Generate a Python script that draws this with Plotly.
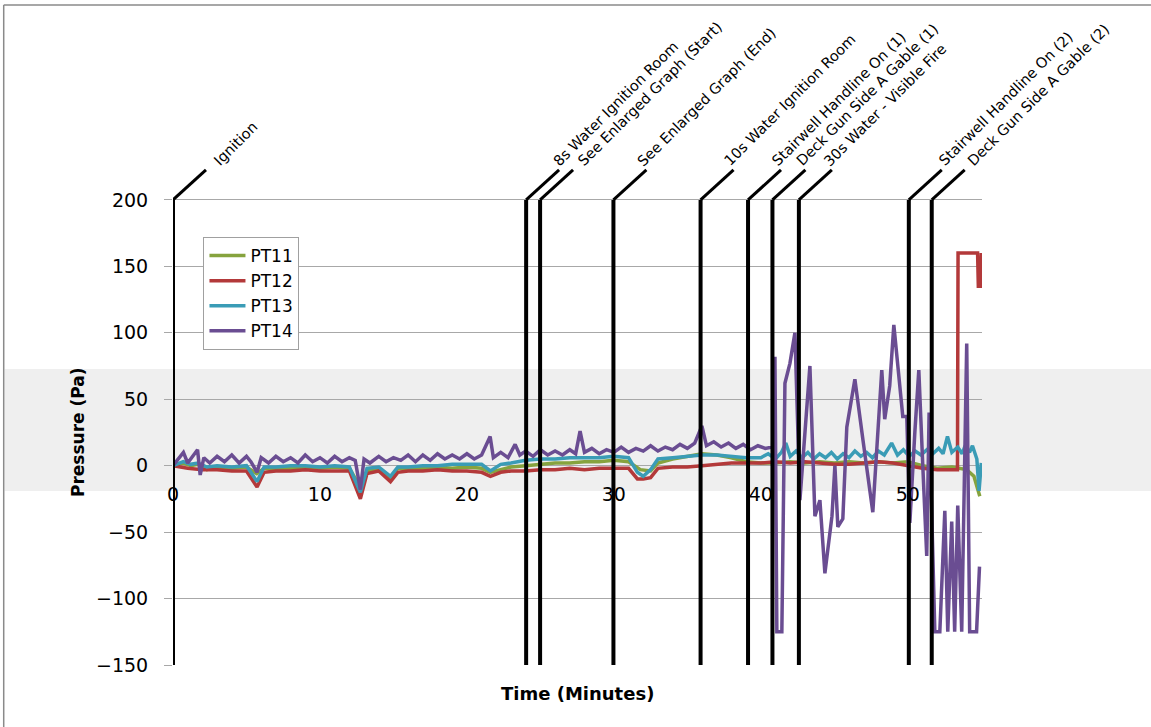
import plotly.graph_objects as go

# ---------------- data (time in minutes, pressure in Pa) ----------------
t11 = [0, 0.7, 1.2, 1.7, 2.3, 3, 4, 5, 5.7, 6.2, 7, 8, 9, 10, 11, 12, 12.75, 13.2, 14, 14.8,
       15.3, 16, 17, 18, 19, 20, 21, 21.6, 22.3, 23, 24, 25, 26, 27, 28, 29, 30, 31, 31.8, 32.5,
       33, 34, 35, 36, 37, 38, 39, 40, 41, 42, 43, 44, 45, 46, 47, 48, 49, 50, 51, 52,
       53, 54, 54.5, 54.9]
v11 = [0, 2, 0, 1, -3, -1, -2, -1, -6, -2, -3, -2, -1, -2, -1, -2, -16, -4, -2, -9,
       -2, -3, -2, -1, -2, -1, -2, -5, -3, -1, 0, 1, 2, 2, 3, 3, 4, 3, -3, -4,
       2, 5, 7, 9, 8, 6, 3, 2, 2, 3, 2, 3, 2, 3, 2, 3, 2, 3, 0, -2,
       -1, -3, -8, -23]

t12 = [0, 1, 2, 3, 4, 5, 5.72, 6.2, 7, 8, 9, 10, 11, 12, 12.75, 13.2, 14, 14.8, 15.3, 16,
       17, 18, 19, 20, 21, 21.6, 22.3, 23, 24, 25, 26, 27, 28, 29, 30, 31, 31.6, 32.0, 32.5, 33,
       34, 35, 36, 37, 38, 39, 40, 41, 42, 43, 44, 45, 46, 47, 48, 49, 50, 51, 52, 53,
       53.38, 53.42, 54.75, 54.8, 54.95, 55.0]
v12 = [0, -2, -3, -3, -4, -4, -16, -5, -4, -4, -3, -4, -4, -4, -25, -6, -4, -12, -5, -4,
       -4, -3, -4, -4, -5, -8, -5, -4, -4, -3, -3, -2, -3, -2, -2, -2, -10, -10, -9, -2,
       -1, -1, 0, 1, 2, 2, 2, 3, 2, 3, 2, 1, 1, 2, 3, 2, 0, -2, -3, -3,
       -3, 160, 160, 135, 135, 160]

t13 = [0, 0.7, 1.2, 1.7, 2.3, 3, 4, 5, 5.72, 6.2, 7, 8, 9, 10, 11, 12, 12.75, 13.2, 14, 14.8,
       15.3, 16, 17, 18, 19, 20, 21, 21.6, 22.3, 23, 24, 25, 26, 27, 28, 29, 30, 31, 31.6, 32.0,
       32.5, 33, 34, 35, 36, 37, 38, 39,
       40, 40.5, 41, 41.4, 41.7, 42.0, 42.4, 42.8, 43.2, 43.6, 44, 44.4, 44.8, 45.2, 45.6,
       46, 46.4, 46.8, 47.2, 47.6, 48, 48.4, 48.9, 49.3, 49.7, 50.1, 50.5, 50.9, 51.3, 51.7,
       52.1, 52.4, 52.7, 53.0, 53.4, 53.7, 53.9, 54.2, 54.4, 54.6, 54.7, 54.85, 55.0]
v13 = [0, 3, 1, 2, -1, 0, -1, 0, -12, -1, -1, 0, 0, -1, 0, -1, -20, -2, -1, -8,
       -1, -1, 0, 0, 1, 1, 1, -4, 1, 2, 4, 5, 5, 6, 6, 6, 7, 6, -5, -8,
       -3, 5, 6, 7, 8, 8, 7, 6,
       6, 9, 5, 10, 17, 7, 11, 6, 10, 5, 9, 6, 10, 5, 9,
       6, 11, 7, 10, 6, 11, 8, 17, 8, 12, 7, 11, 8, 12, 9,
       13, 9, 22, 10, 14, 9, 15, 10, 15, 8, 5, -19, 2]

t14 = [0, 0.4, 0.71, 1.0, 1.3, 1.67, 1.85, 2.1, 2.5, 3, 3.5, 4, 4.5, 5, 5.3, 5.72, 6.0, 6.5,
       7, 7.5, 8, 8.5, 9, 9.5, 10, 10.5, 11, 11.5, 12, 12.4, 12.75, 13.0, 13.4, 14, 14.5, 15,
       15.5, 16, 16.5, 17, 17.5, 18, 18.5, 19, 19.5, 20, 20.5, 21, 21.58, 21.8, 22.3, 22.8,
       23.28, 23.6, 24, 24.5, 25, 25.5, 26, 26.5, 27, 27.4, 27.7, 28.0, 28.5, 29, 29.5, 30,
       30.5, 31, 31.5, 32, 32.5, 33, 33.5, 34, 34.5, 35, 35.5, 35.99, 36.3, 36.8, 37.3, 37.8,
       38.3, 38.8, 39.3, 39.8, 40.3, 40.8,
       40.96, 41.09, 41.43, 41.64, 41.98, 42.32, 42.66, 43.34, 43.68, 44.02, 44.36, 44.84,
       45.04, 45.24, 45.58, 45.85, 46.40, 46.60, 46.94, 47.62, 47.96, 48.23, 48.43, 48.77,
       49.05, 49.32, 49.66, 49.93, 50.14, 50.48, 50.75, 51.02, 51.29, 51.45, 51.84, 52.18,
       52.52, 52.72, 52.99, 53.19, 53.40, 53.67, 53.87, 54.01, 54.21, 54.68, 54.88]
v14 = [0, 6, 10, 2, 7, 12, -7, 6, 2, 7, 3, 8, 2, 7, 3, -5, 6, 2,
       7, 3, 6, 2, 8, 3, 6, 2, 7, 3, 6, 4, -18, 5, 2, 7, 3, 6,
       4, 8, 3, 8, 4, 9, 5, 8, 5, 9, 5, 8, 22, 6, 10, 6,
       16, 8, 11, 7, 12, 8, 11, 8, 12, 9, 26, 10, 13, 9, 12, 10,
       14, 10, 13, 11, 15, 11, 14, 12, 16, 13, 17, 30, 15, 18, 14, 17,
       13, 16, 12, 15, 13, 14,
       82, -125, -125, 62, 77, 100, -26, 75, -38, -26, -81, -38,
       0, -46, -40, 29, 65, 50, 20, -35, 25, 72, 35, 60,
       106, 75, 37, 37, -43, 25, 72, 0, -68, 40, -125, -125,
       -34, -125, -42, -125, -30, -125, 20, 92, -125, -125, -76]

series_names = ["PT11", "PT12", "PT13", "PT14"]
series_colors = ["#86a33e", "#b3393a", "#3a9cb6", "#6a4d92"]

event_times = [0, 24.03, 24.98, 29.97, 35.9, 39.13, 40.79, 42.59, 50.07, 51.63]
event_labels = ["Ignition", "8s Water Ignition Room", "See Enlarged Graph (Start)",
                "See Enlarged Graph (End)", "10s Water Ignition Room", "Stairwell Handline On (1)",
                "Deck Gun Side A Gable (1)", "30s Water - Visible Fire",
                "Stairwell Handline On (2)", "Deck Gun Side A Gable (2)"]
# horizontal nudge of each event label (px) relative to its leader end
event_label_shift = [2, -12, -1, -15, -15, -15, -15, -14, -9, -3]

x_ticks = [0, 10, 20, 30, 40, 50]
y_ticks = [-150, -100, -50, 0, 50, 100, 150, 200]

# ---------------- layout constants ----------------
W, H = 1151, 727
ML, MR, MT, MB = 172.5, 168.5, 67, 62
X_RANGE = [0, 55.05]
Y_RANGE = [-150, 300]
PW = W - ML - MR
PH = H - MT - MB
px_per_x = PW / (X_RANGE[1] - X_RANGE[0])
px_per_y = PH / (Y_RANGE[1] - Y_RANGE[0])


def px_to_paper_x(px):
    return (px - ML) / PW


def px_to_paper_y(py):
    return (H - MB - py) / PH


FONT = "DejaVu Sans"
GRID = "#a8a8a8"

fig = go.Figure()
for t, v, name, col in zip([t11, t12, t13, t14], [v11, v12, v13, v14], series_names, series_colors):
    fig.add_trace(go.Scatter(x=t, y=v, mode="lines", name=name,
                             line=dict(color=col, width=3.5)))

shapes = []
# grey band from the reference image
shapes.append(dict(type="rect", xref="paper", yref="paper",
                   x0=px_to_paper_x(4), x1=px_to_paper_x(W + 5),
                   y0=px_to_paper_y(491), y1=px_to_paper_y(369),
                   fillcolor="#efefef", line=dict(width=0), layer="below"))
# frame lines (top, left)
shapes.append(dict(type="line", xref="paper", yref="paper",
                   x0=px_to_paper_x(3), x1=px_to_paper_x(W + 5),
                   y0=px_to_paper_y(5), y1=px_to_paper_y(5),
                   line=dict(color="#8a8a8a", width=1.5)))
shapes.append(dict(type="line", xref="paper", yref="paper",
                   x0=px_to_paper_x(3), x1=px_to_paper_x(3),
                   y0=px_to_paper_y(5), y1=px_to_paper_y(H + 5),
                   line=dict(color="#8a8a8a", width=1.5)))

LDX = 33 / px_per_x
LDY = 30 / px_per_y
annotations = []
for et, lab, sh in zip(event_times, event_labels, event_label_shift):
    shapes.append(dict(type="line", xref="x", yref="y", x0=et, x1=et, y0=-150, y1=200,
                       line=dict(color="black", width=4)))
    shapes.append(dict(type="line", xref="x", yref="y", x0=et, x1=et + LDX, y0=200, y1=200 + LDY,
                       line=dict(color="black", width=3)))
    annotations.append(dict(x=et + LDX, y=200 + LDY, xref="x", yref="y", text=lab,
                            showarrow=False, textangle=-45, xanchor="left", yanchor="bottom",
                            xshift=sh, yshift=-2,
                            font=dict(family=FONT, size=14.5, color="black")))

annotations.append(dict(x=0.5, y=px_to_paper_y(693), xref="paper", yref="paper",
                        text="<b>Time (Minutes)</b>", showarrow=False,
                        xanchor="center", yanchor="middle",
                        font=dict(family=FONT, size=18, color="black")))
annotations.append(dict(x=px_to_paper_x(78), y=25, xref="paper", yref="y",
                        text="<b>Pressure (Pa)</b>", showarrow=False, textangle=-90,
                        xanchor="center", yanchor="middle",
                        font=dict(family=FONT, size=17, color="black")))

fig.update_layout(
    width=W, height=H,
    margin=dict(l=ML, r=MR, t=MT, b=MB, pad=0),
    paper_bgcolor="white", plot_bgcolor="rgba(0,0,0,0)",
    font=dict(family=FONT, size=19, color="black"),
    shapes=shapes, annotations=annotations,
    showlegend=True,
    legend=dict(x=px_to_paper_x(203), y=px_to_paper_y(237), xanchor="left", yanchor="top",
                bgcolor="white", bordercolor="#a0a0a0", borderwidth=1,
                font=dict(family=FONT, size=17, color="black"),
                tracegroupgap=0, itemwidth=36),
    xaxis=dict(range=X_RANGE, anchor="free", position=(0 - Y_RANGE[0]) / (Y_RANGE[1] - Y_RANGE[0]),
               tickvals=x_ticks, showgrid=False, zeroline=False, showline=False,
               ticks="outside", ticklen=12, tickcolor="rgba(0,0,0,0)",
               tickfont=dict(family=FONT, size=19, color="black")),
    yaxis=dict(range=Y_RANGE, tickvals=y_ticks, showgrid=True, gridcolor=GRID, gridwidth=1,
               zeroline=False, showline=False, ticks="outside", ticklen=8, tickcolor=GRID,
               ticklabelstandoff=12,
               tickfont=dict(family=FONT, size=19, color="black")),
)

fig.write_html("out.html", config={"displayModeBar": False},
               post_script="document.body.style.margin='0px';")
